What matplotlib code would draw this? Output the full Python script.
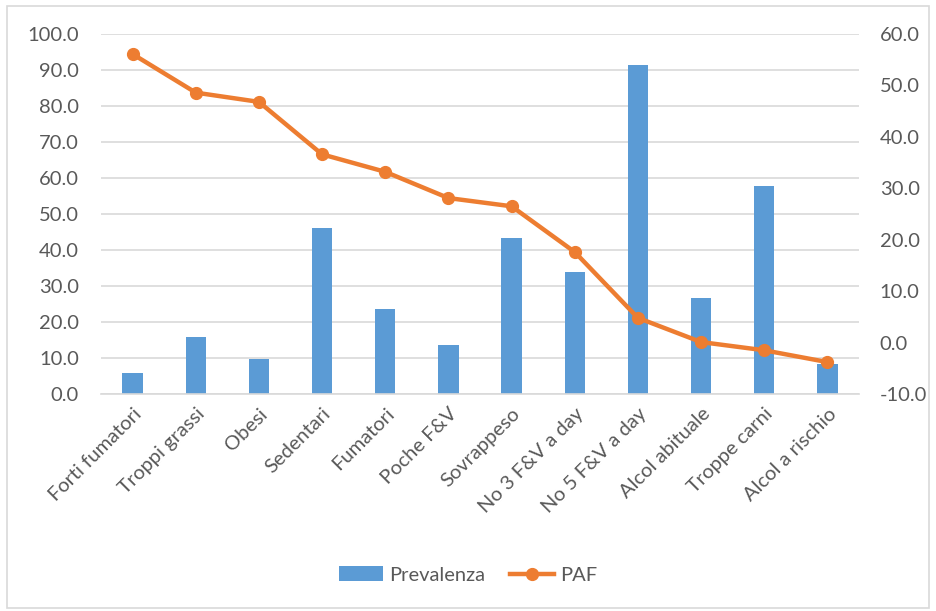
import numpy as np
import matplotlib.pyplot as plt
from matplotlib.patches import Rectangle

categories = ["Forti fumatori", "Troppi grassi", "Obesi", "Sedentari", "Fumatori",
              "Poche F&V", "Sovrappeso", "No 3 F&V a day", "No 5 F&V a day",
              "Alcol abituale", "Troppe carni", "Alcol a rischio"]
prevalenza = [5.7, 15.7, 9.6, 46.0, 23.5, 13.5, 43.4, 34.0, 91.3, 26.7, 57.9, 8.4]
paf = [56.1, 48.6, 46.8, 36.6, 33.2, 28.1, 26.5, 17.6, 4.8, 0.1, -1.5, -3.8]

plt.rcParams['font.family'] = ['Lato', 'DejaVu Sans']
txt = '#595959'
grid = '#D9D9D9'

fig = plt.figure(figsize=(9.36, 6.11), dpi=100)
fig.patches.append(Rectangle((0.008, 0.005), 0.985, 0.985, transform=fig.transFigure,
                             fill=False, edgecolor=grid, linewidth=1.2))

ax = fig.add_axes([101/936, (611-394)/611, 758/936, 360/611])
x = np.arange(len(categories))
bars = ax.bar(x, prevalenza, width=0.32, color='#5B9BD5', label='Prevalenza', zorder=2)
ax.set_ylim(0, 100)
ax.set_yticks(np.arange(0, 101, 10))
ax.set_yticklabels([f"{v:.1f}" for v in np.arange(0, 101, 10)])
ax.set_xlim(-0.5, len(categories) - 0.5)
ax.set_xticks(x)
ax.set_xticklabels(categories, rotation=45, ha='right', rotation_mode='anchor')
ax.grid(axis='y', color=grid, linewidth=1.2, zorder=0)
ax.set_axisbelow(True)
for s in ['top', 'right', 'left']:
    ax.spines[s].set_visible(False)
ax.spines['bottom'].set_color(grid)
ax.spines['bottom'].set_linewidth(1.2)
ax.tick_params(axis='y', length=0, pad=16, labelsize=14.5, colors=txt)
ax.tick_params(axis='x', length=0, pad=8, labelsize=14.5, colors=txt)

ax2 = ax.twinx()
line, = ax2.plot(x, paf, color='#ED7D31', linewidth=3.2, marker='o', markersize=8.5,
                 label='PAF', zorder=3)
ax2.set_ylim(-10, 60)
ax2.set_yticks(np.arange(-10, 61, 10))
ax2.set_yticklabels([f"{v:.1f}" for v in np.arange(-10, 61, 10)])
for s in ax2.spines.values():
    s.set_visible(False)
ax2.tick_params(axis='y', length=0, pad=15, labelsize=14.5, colors=txt)

fig.legend([bars, line], ['Prevalenza', 'PAF'], loc='center', ncol=2,
           bbox_to_anchor=(0.5, 36/611), frameon=False, fontsize=14.5,
           labelcolor=txt, handlelength=2.2, columnspacing=1.2, handletextpad=0.3)

fig.savefig('out.png', dpi=100)
